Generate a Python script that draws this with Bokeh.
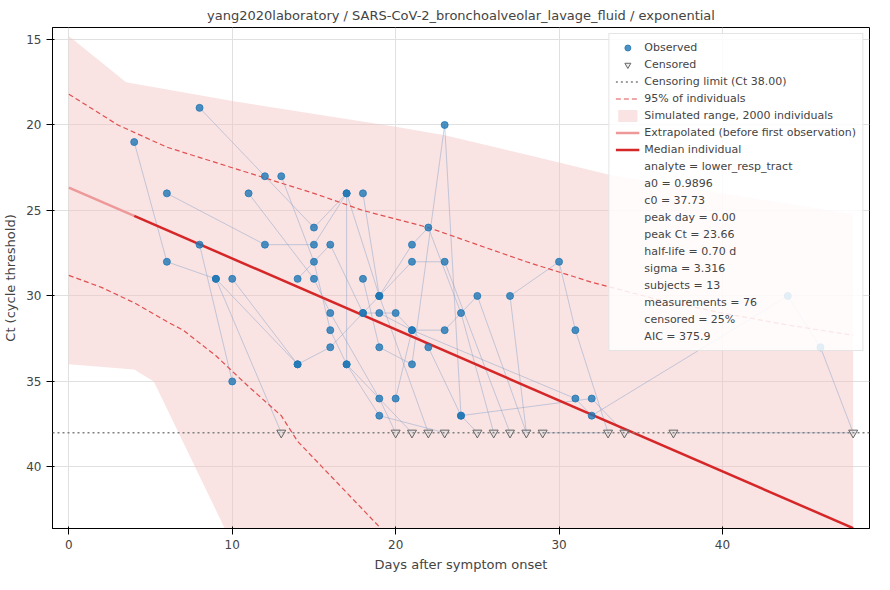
from bokeh.plotting import figure
from bokeh.models import Range1d, Legend, LegendItem, Span
from bokeh.embed import file_html
from bokeh.resources import INLINE

# subjects: (day, ct, censored)
subjects = [
    [(4,21,0),(6,28,0),(9,29,0),(13,38,1)],
    [(6,24,0),(12,27,0),(15,27,0),(17,24,0),(19,30,0),(22,38,1)],
    [(8,19,0),(12,23,0),(15,26,0),(17,24,0),(17,34,0),(21,38,1)],
    [(8,27,0),(10,35,0)],
    [(9,29,0),(14,34,0)],
    [(10,29,0),(14,34,0),(16,33,0),(18,31,0),(20,31,0),(22,33,0),(24,37,0),(32,36,0),(34,38,1)],
    [(11,24,0),(15,29,0),(16,31,0),(19,36,0),(20,38,1)],
    [(13,23,0),(15,28,0),(16,32,0),(17,34,0),(19,37,0),(23,38,1)],
    [(14,29,0),(16,27,0),(18,31,0),(19,30,0),(21,27,0),(22,26,0),(24,31,0),(26,38,1)],
    [(18,24,0),(19,30,0),(21,28,0),(23,28,0),(27,38,1)],
    [(18,29,0),(19,33,0),(21,34,0),(23,20,0),(24,37,0),(25,38,1)],
    [(19,31,0),(21,32,0),(23,32,0),(25,30,0),(28,38,1),(27,30,0),(30,28,0),(31,32,0),(33,38,1),(29,38,1)],
    [(20,36,0),(21,32,0),(31,36,0),(32,37,0),(44,30,0),(46,33,0),(48,38,1),(37,38,1)],
]

med_t = [0, 4, 48]
peak_ct = 23.66
slope = 0.415
up_t = [0, 3, 6, 10, 15, 18, 22, 25, 28, 32, 36, 40, 44, 48]
up_ct = [18.2, 20.0, 21.3, 22.5, 24.0, 25.0, 26.0, 27.0, 28.0, 29.2, 30.2, 31.0, 31.7, 32.3]
lo_t = [0, 2, 4, 6, 7, 9, 11, 13, 14, 16, 18, 19.5]
lo_ct = [28.8, 29.5, 30.4, 31.5, 32.0, 33.5, 35.3, 37.0, 38.5, 40.5, 42.5, 44.0]
band_t = [0, 3.5, 10, 20, 23, 30, 33, 40, 48]
band_hi = [14.8, 17.5, 18.6, 20.1, 20.6, 22.2, 22.9, 24.0, 25.2]
band_lo_t = [0, 4, 5.2, 10, 48]
band_lo = [34.0, 34.3, 35.0, 44.5, 44.5]

p = figure(width=874, height=574, output_backend="svg", toolbar_location=None,
           title="yang2020laboratory / SARS-CoV-2_bronchoalveolar_lavage_fluid / exponential",
           x_range=Range1d(-1, 49), y_range=Range1d(43.6, 14.3),
           x_axis_label="Days after symptom onset", y_axis_label="Ct (cycle threshold)")
p.title.align = "center"
p.title.text_font_style = "normal"
p.title.text_font = "DejaVu Sans"
p.title.text_font_size = "13px"
for ax in (p.xaxis, p.yaxis):
    ax.axis_label_text_font = "DejaVu Sans"
    ax.axis_label_text_font_style = "normal"
    ax.axis_label_text_font_size = "13px"
    ax.major_label_text_font = "DejaVu Sans"
    ax.major_label_text_font_size = "12px"
    ax.minor_tick_line_color = None
p.xaxis.ticker = [0, 10, 20, 30, 40]
p.yaxis.ticker = [15, 20, 25, 30, 35, 40]
p.grid.grid_line_color = "#e0e0e0"
p.outline_line_color = "black"

bx = list(band_t) + list(band_lo_t[::-1])
by = list(band_hi) + list(band_lo[::-1])
band = p.patch(bx, by, fill_color="#f4c2c2", fill_alpha=0.45, line_color=None)

for s in subjects:
    p.line([a[0] for a in s], [a[1] for a in s], line_color="#7f9fc8", line_alpha=0.45, line_width=1)

obs_x = [a[0] for s in subjects for a in s if not a[2]]
obs_y = [a[1] for s in subjects for a in s if not a[2]]
cen_x = [a[0] for s in subjects for a in s if a[2]]
cen_y = [a[1] for s in subjects for a in s if a[2]]

lim = Span(location=38, dimension="width", line_color="gray", line_dash="2 3", line_width=1.3)
p.add_layout(lim)
limr = p.line([0], [38], line_color="gray", line_dash="2 3", line_width=1.3)

up = p.line(up_t, up_ct, line_color="#e05050", line_dash="5 3", line_width=1.2)
p.line(lo_t, lo_ct, line_color="#e05050", line_dash="5 3", line_width=1.2)
ext = p.line(med_t[:2], [peak_ct + slope * t for t in med_t[:2]], line_color="#ee9999", line_width=2.5)
med = p.line(med_t[1:], [peak_ct + slope * t for t in med_t[1:]], line_color="#d62728", line_width=2.5)

obs = p.scatter(obs_x, obs_y, size=7, fill_color="#1f77b4", fill_alpha=0.8, line_color="#1f77b4", line_alpha=0.8)
cen = p.scatter(cen_x, cen_y, marker="inverted_triangle", size=9, fill_color="#dddddd", fill_alpha=0.5, line_color="#666666")

stats = ["analyte = lower_resp_tract", "a0 = 0.9896", "c0 = 37.73", "peak day = 0.00",
         "peak Ct = 23.66", "half-life = 0.70 d", "sigma = 3.316", "subjects = 13",
         "measurements = 76", "censored = 25%", "AIC = 375.9"]
items = [LegendItem(label="Observed", renderers=[obs]),
         LegendItem(label="Censored", renderers=[cen]),
         LegendItem(label="Censoring limit (Ct 38.00)", renderers=[limr]),
         LegendItem(label="95% of individuals", renderers=[up]),
         LegendItem(label="Simulated range, 2000 individuals", renderers=[band]),
         LegendItem(label="Extrapolated (before first observation)", renderers=[ext]),
         LegendItem(label="Median individual", renderers=[med])]
for s in stats:
    r = p.line([0], [0], line_alpha=0)
    items.append(LegendItem(label=s, renderers=[r]))
leg = Legend(items=items, location="top_right", label_text_font="DejaVu Sans",
             label_text_font_size="11px", label_height=15, glyph_height=15, glyph_width=24,
             spacing=2, padding=6, margin=6, background_fill_alpha=0.85,
             border_line_color="#cccccc")
p.add_layout(leg)

open("out.html", "w").write(file_html(p, INLINE))
